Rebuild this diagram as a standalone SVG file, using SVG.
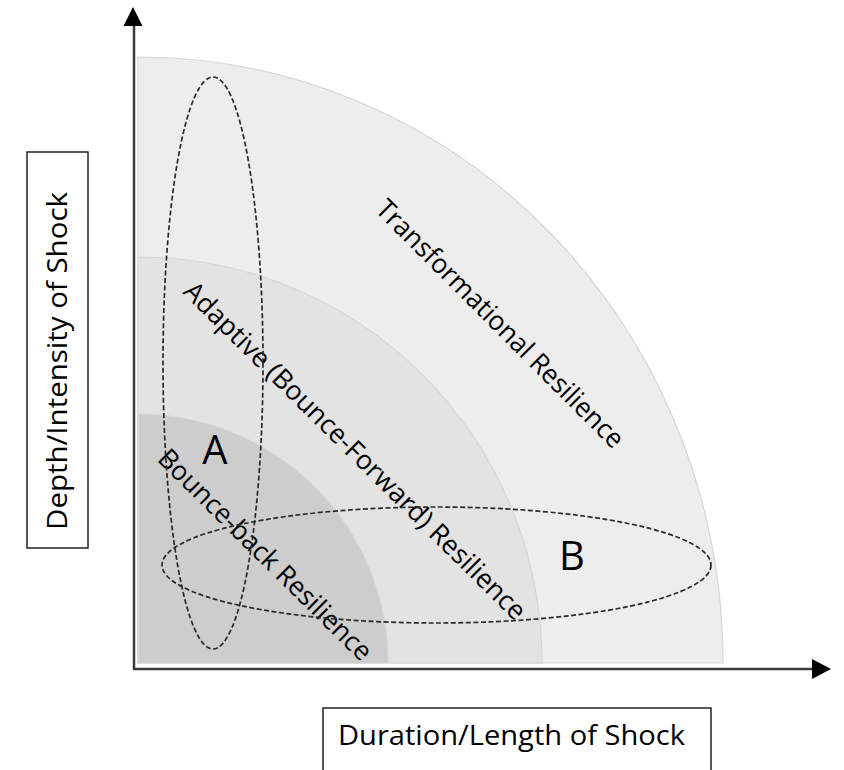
<svg xmlns="http://www.w3.org/2000/svg" width="844" height="770" viewBox="0 0 844 770">
<style>
.zone{stroke:#d6d6d6;stroke-width:1.2}
.lbl{font-family:"Open Sans","Liberation Sans",sans-serif;font-size:27px;fill:#000}
.big{font-family:"Open Sans","Liberation Sans",sans-serif;font-size:40px;fill:#000}
.ell{fill:none;stroke:#2a2a2a;stroke-width:1.7;stroke-dasharray:5 2.5}
.box{fill:#fff;stroke:#222;stroke-width:1.5}
.axis{stroke:#3a3a3a;stroke-width:2.5;fill:none}
</style>
<rect width="844" height="770" fill="#fff"/>
<g id="zones">
<path id="transformational" class="zone" fill="#ededed" d="M138,663 L138,57 A585,606 0 0 1 723,663 Z"/>
<path id="adaptive" class="zone" fill="#e3e3e3" d="M138,663 L138,257 A404,406 0 0 1 542,663 Z"/>
<path id="bounceback" class="zone" fill="#cdcdcd" d="M138,663 L138,414 A250,249 0 0 1 388,663 Z"/>
</g>
<g id="connectors">
<line class="axis" x1="134" y1="669" x2="134" y2="24"/>
<polygon points="133,7 123.5,26 142.5,26" fill="#000"/>
<line class="axis" x1="133" y1="669" x2="814" y2="669"/>
<polygon points="831,669 812,659 812,679" fill="#000"/>
</g>
<g id="zone-labels">
<text class="lbl" text-anchor="middle" transform="translate(500,324) rotate(45)" x="0" y="9" textLength="338" lengthAdjust="spacingAndGlyphs">Transformational Resilience</text>
<text class="lbl" text-anchor="middle" transform="translate(355,451) rotate(44.6)" x="0" y="9" textLength="468" lengthAdjust="spacingAndGlyphs">Adaptive (Bounce-Forward) Resilience</text>
<text class="lbl" text-anchor="middle" transform="translate(265,555) rotate(44.6)" x="0" y="9" textLength="288" lengthAdjust="spacingAndGlyphs">Bounce-back Resilience</text>
</g>
<g id="ellipse-A">
<ellipse class="ell" cx="213" cy="363" rx="50" ry="286"/>
<text class="big" x="215" y="464" text-anchor="middle">A</text>
</g>
<g id="ellipse-B">
<ellipse class="ell" cx="436.5" cy="565" rx="274.5" ry="58"/>
<text class="big" x="572" y="570" text-anchor="middle">B</text>
</g>
<g id="y-label">
<rect class="box" x="27" y="152" width="61" height="396"/>
<text class="lbl" text-anchor="middle" transform="translate(67,361) rotate(-90)" x="0" y="0" textLength="338" lengthAdjust="spacingAndGlyphs">Depth/Intensity of Shock</text>
</g>
<g id="x-label">
<rect class="box" x="323" y="708" width="388" height="70"/>
<text class="lbl" x="338" y="745" textLength="347" lengthAdjust="spacingAndGlyphs">Duration/Length of Shock</text>
</g>
</svg>
